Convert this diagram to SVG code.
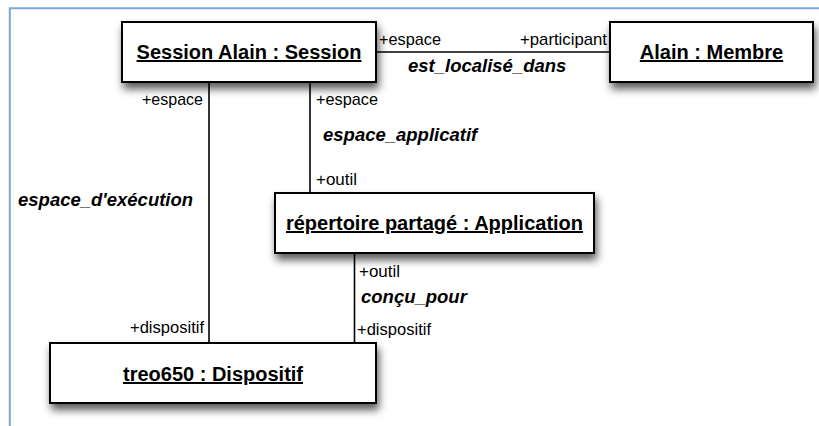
<svg xmlns="http://www.w3.org/2000/svg" width="819" height="426" viewBox="0 0 819 426">
<defs>
<filter id="sh" x="-10%" y="-20%" width="125%" height="160%">
<feDropShadow dx="2" dy="6" stdDeviation="4" flood-color="#000" flood-opacity="0.65"/>
</filter>
<style>
.box{fill:#fff;stroke:#000;stroke-width:2}
.name{font-family:"Liberation Sans",Arial,sans-serif;font-weight:bold;font-size:20px;text-decoration:underline;fill:#000}
.role{font-family:"Liberation Sans",Arial,sans-serif;font-size:17px;fill:#000}
.assoc{font-family:"Liberation Sans",Arial,sans-serif;font-weight:bold;font-style:italic;font-size:18.5px;fill:#000}
.conn{stroke:#000;stroke-width:1.6;fill:none}
.frame{stroke:#7ba7d9;stroke-width:2;fill:none}
</style>
</defs>
<rect width="819" height="426" fill="#fff"/>
<path class="frame" d="M9.8,426 V8.2 H819"/>
<g id="connectors">
<line class="conn" x1="376" y1="52" x2="610" y2="52"/>
<line class="conn" x1="209" y1="82" x2="209" y2="343"/>
<line class="conn" x1="310" y1="82" x2="310" y2="193"/>
<line class="conn" x1="354.5" y1="253" x2="354.5" y2="343"/>
<text class="role" x="379" y="45" textLength="62" lengthAdjust="spacingAndGlyphs">+espace</text>
<text class="role" x="520" y="45" textLength="87" lengthAdjust="spacingAndGlyphs">+participant</text>
<text class="assoc" x="408" y="72">est_localisé_dans</text>
<text class="role" x="142" y="105" textLength="61" lengthAdjust="spacingAndGlyphs">+espace</text>
<text class="role" x="316" y="105" textLength="62" lengthAdjust="spacingAndGlyphs">+espace</text>
<text class="assoc" x="323" y="141">espace_applicatif</text>
<text class="role" x="316" y="185" textLength="41" lengthAdjust="spacingAndGlyphs">+outil</text>
<text class="assoc" x="18" y="206">espace_d'exécution</text>
<text class="role" x="359" y="277" textLength="41" lengthAdjust="spacingAndGlyphs">+outil</text>
<text class="assoc" x="361" y="303">conçu_pour</text>
<text class="role" x="130" y="333" textLength="74" lengthAdjust="spacingAndGlyphs">+dispositif</text>
<text class="role" x="357" y="335" textLength="74" lengthAdjust="spacingAndGlyphs">+dispositif</text>
</g>
<g id="session">
<rect class="box" x="122" y="22" width="254" height="60" filter="url(#sh)"/>
<text class="name" x="249" y="59" text-anchor="middle">Session Alain : Session</text>
</g>
<g id="alain">
<rect class="box" x="610" y="22" width="203" height="60" filter="url(#sh)"/>
<text class="name" x="711.5" y="59" text-anchor="middle">Alain : Membre</text>
</g>
<g id="repertoire">
<rect class="box" x="275" y="193" width="319" height="60" filter="url(#sh)"/>
<text class="name" x="434.5" y="230" text-anchor="middle">répertoire partagé : Application</text>
</g>
<g id="treo">
<rect class="box" x="50" y="343" width="326" height="60" filter="url(#sh)"/>
<text class="name" x="213" y="381" text-anchor="middle">treo650 : Dispositif</text>
</g>
</svg>
